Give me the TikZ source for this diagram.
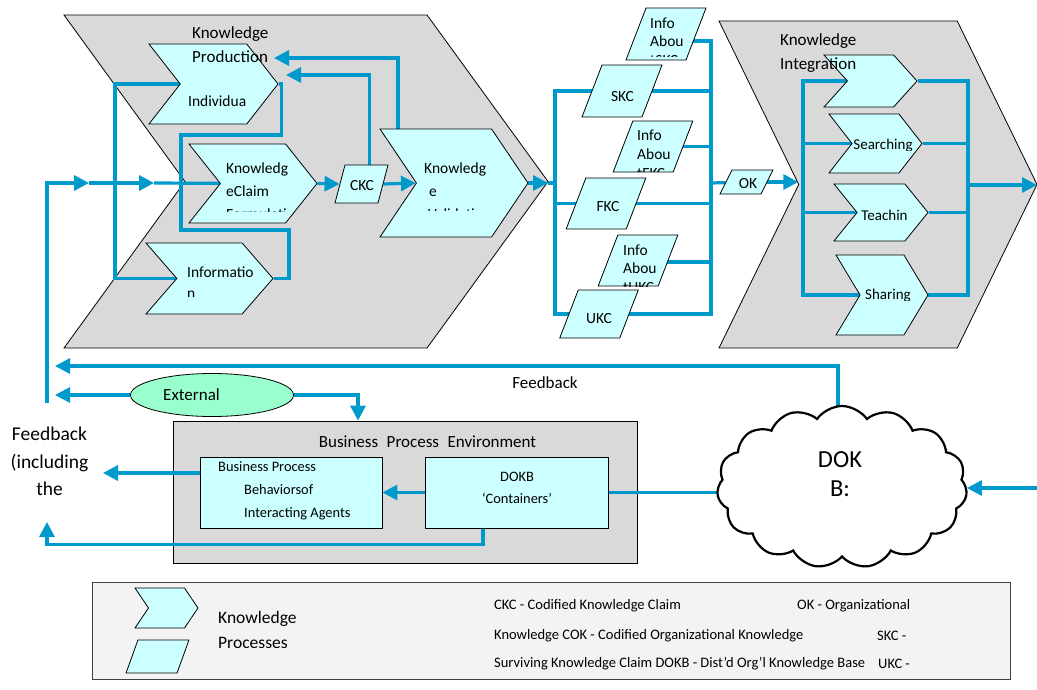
\documentclass[tikz,border=0pt]{standalone}
\usepackage{fontspec}
\setmainfont{Carlito}
\usetikzlibrary{shapes.symbols,shapes.geometric,arrows.meta}

\definecolor{procfill}{RGB}{204,255,255}
\definecolor{flowblue}{RGB}{0,153,204}
\definecolor{panelgrey}{RGB}{217,217,217}
\definecolor{extgreen}{RGB}{153,255,204}
\definecolor{legendgrey}{RGB}{243,243,243}
\pgfdeclarelayer{panels}
\pgfdeclarelayer{wires}
\pgfsetlayers{panels,wires,main}

\begin{document}
\begin{tikzpicture}
[every node/.style={inner sep=0pt},
 panel/.style={signal, signal to=east, signal from=west, draw=black, fill=panelgrey, line width=0.8pt},
 kproc/.style={signal, signal to=east, signal from=west, draw=black, fill=procfill, line width=0.8pt},
 kclaim/.style={rectangle, xslant=0.385, draw=black, fill=procfill, line width=0.8pt},
 wire/.style={draw=flowblue, line width=3.2pt},
 flow/.style={wire, -{Triangle[length=15pt,width=15pt]}},
 txt/.style={font=\fontsize{15.5}{23}\selectfont, align=left},
 boxtxt/.style={font=\fontsize{14.4}{23}\selectfont, align=left},
 bigtxt/.style={font=\fontsize{17}{24}\selectfont, align=left},
 legtxt/.style={font=\fontsize{14.5}{18}\selectfont, anchor=west}]
\useasboundingbox (0pt,0pt) rectangle (1037pt,-689pt);

% grey panels
\begin{pgfonlayer}{panels}
\node (kprod) [panel, minimum width=484pt, minimum height=333pt, signal pointer angle=108] at (306pt, -181.5pt) {};
\node (kint) [panel, minimum width=318pt, minimum height=327pt, signal pointer angle=128] at (878pt, -184.5pt) {};
\node (bpe) [rectangle, draw=black, fill=panelgrey, line width=0.8pt, minimum width=464pt, minimum height=142pt] at (405pt, -492pt) {};
\node (legend) [rectangle, draw=black!75, fill=legendgrey, line width=1pt, minimum width=918pt, minimum height=97pt] at (551pt, -630.5pt) {};
\end{pgfonlayer}

% knowledge production
\node (ind) [kproc, minimum width=129pt, minimum height=80pt, signal pointer angle=104] at (213.5pt, -84pt) {};
\node (kcf) [kproc, minimum width=128pt, minimum height=79pt, signal pointer angle=103] at (253pt, -183.5pt) {};
\node (info) [kproc, minimum width=127pt, minimum height=71pt, signal pointer angle=98] at (209.5pt, -278.5pt) {};
\node (kval) [kproc, minimum width=148pt, minimum height=108pt, signal pointer angle=112] at (454pt, -183pt) {};
\node (ckc) [kclaim, xslant=-0.122, minimum width=43pt, minimum height=38pt] at (361.5pt, -184pt) {};

% claims
\node (iskc) [kclaim, minimum width=60pt, minimum height=52pt] at (666pt, -34pt) {};
\node (skc) [kclaim, minimum width=60pt, minimum height=52pt] at (622pt, -91pt) {};
\node (ifkc) [kclaim, minimum width=60pt, minimum height=51pt] at (653pt, -146.5pt) {};
\node (fkc) [kclaim, minimum width=60pt, minimum height=51pt] at (606pt, -203.5pt) {};
\node (iukc) [kclaim, minimum width=60pt, minimum height=51pt] at (638pt, -260.5pt) {};
\node (ukc) [kclaim, minimum width=60pt, minimum height=48pt] at (599pt, -314pt) {};
\node (ok) [kclaim, xslant=0.115, minimum width=41pt, minimum height=24pt] at (746.5pt, -182pt) {};

% knowledge integration
\node (intA) [kproc, minimum width=93pt, minimum height=52pt, signal pointer angle=96] at (870.5pt, -81pt) {};
\node (search) [kproc, minimum width=93pt, minimum height=59pt, signal pointer angle=104] at (875.5pt, -143.5pt) {};
\node (teach) [kproc, minimum width=94pt, minimum height=57pt, signal pointer angle=102] at (881pt, -212.5pt) {};
\node (share) [kproc, minimum width=92pt, minimum height=80pt, signal pointer angle=118] at (882pt, -295pt) {};

% environment
\node (ext) [ellipse, draw=black, fill=extgreen, line width=0.8pt, minimum width=163pt, minimum height=43pt] at (212pt, -395pt) {};
\node (bpb) [rectangle, draw=black, fill=procfill, line width=0.8pt, minimum width=182pt, minimum height=71pt] at (291pt, -492.5pt) {};
\node (dokb) [rectangle, draw=black, fill=procfill, line width=0.8pt, minimum width=183pt, minimum height=71pt] at (516.5pt, -492.5pt) {};
\node (cloud) [cloud, cloud puffs=15, cloud puff arc=110, aspect=1.5, draw=black, fill=white, line width=2.2pt, minimum width=250pt, minimum height=162pt] at (842pt, -487pt) {};

% legend shapes
\node (legproc) [kproc, minimum width=63pt, minimum height=40pt, signal pointer angle=112] at (166.5pt, -608pt) {};
\node (legclaim) [kclaim, xslant=-0.025, minimum width=51pt, minimum height=33pt] at (157.5pt, -656.5pt) {};

% free ends
\coordinate (fbFoot) at (47pt, -403pt);
\coordinate (fbMarkA) at (89pt, -183pt);
\coordinate (fbMarkB) at (154pt, -183pt);
\coordinate (prodInA) at (274pt, -58pt);
\coordinate (prodInB) at (286pt, -75pt);
\coordinate (prodOut) at (548pt, -183pt);
\coordinate (splitL) at (555pt, -183pt);
\coordinate (splitR) at (711pt, -183pt);
\coordinate (intOut) at (1037pt, -185pt);
\coordinate (fbTopEnd) at (55pt, -366pt);
\coordinate (fbExtEnd) at (55pt, -395pt);
\coordinate (fbBpEnd) at (103pt, -473pt);
\coordinate (fbLowEnd) at (47pt, -522pt);
\coordinate (dokIn) at (1037pt, -488pt);

\begin{pgfonlayer}{wires}
\draw [flow] (fbFoot) |- (fbMarkA);
\draw [flow] (fbMarkA) -- (fbMarkB);
\draw [wire] (fbMarkB) -- (kcf);
\draw [wire] (ind) -- (115pt, -84pt) |- (info);
\draw [wire] (ind.east) -- ++(3pt,0) |- (181pt, -135pt) |- (289pt, -230pt) |- (info.east);
\draw [flow] ([xshift=-56pt]kval.north) |- (prodInA);
\draw [flow] ([xshift=2.5pt]ckc.north) |- (prodInB);
\draw [flow] (kcf.east) -- (ckc.west);
\draw [flow] (ckc.east) -- (kval.west);
\draw [flow] (kval.east) -- (prodOut);
\draw [wire] (prodOut) -- (splitL);
\draw [wire] (skc) -| (555pt, -314pt) -- (ukc);
\draw [wire] (555pt, -203.5pt) -- (fkc);
\draw [wire] ([yshift=-7pt]iskc.center) -| (711pt, -314pt) -- (ukc);
\draw [wire] (skc) -- (711pt, -91pt);
\draw [wire] (ifkc) -- (711pt, -146.5pt);
\draw [wire] (fkc) -- (711pt, -203.5pt);
\draw [wire] ([yshift=-1.5pt]iukc.center) -- (711pt, -262pt);
\draw [wire] (splitR) -- (ok);
\draw [flow] (ok.east) -- (ok.east -| kint.west);
\draw [wire] (intA) -- (803pt, -81pt) |- (share);
\draw [wire] (803pt, -143.5pt) -- (search);
\draw [wire] (803pt, -212.5pt) -- (teach);
\draw [wire] (intA) -- (968pt, -81pt) |- (share);
\draw [wire] (search) -- (968pt, -143.5pt);
\draw [wire] (teach) -- (968pt, -212.5pt);
\draw [flow] (968pt, -185pt) -- (intOut);
\draw [flow] ([xshift=-4pt]cloud.center) |- (fbTopEnd);
\draw [flow] (ext) -- (fbExtEnd);
\draw [flow] (ext) -| ([xshift=-47pt]bpe.north);
\draw [flow] ([yshift=19.5pt]bpb.west) -- (fbBpEnd);
\draw [flow] (dokb) -- (bpb.east);
\draw [flow] ([xshift=-33.5pt]dokb.south) -- ++(0,-16pt) -| (fbLowEnd);
\draw [wire] (dokb) -- (dokb -| cloud);
\draw [flow] (dokIn) -- (dokIn -| cloud.east);
\end{pgfonlayer}

% texts
\node (prodLbl) [bigtxt, anchor=west] at (192pt, -45pt) {Knowledge\\Production};
\node (intLbl) [bigtxt, anchor=west] at (780pt, -53pt) {Knowledge\\Integration};
\node (indTxt) [txt, anchor=west] at (188pt, -101pt) {Individua};
\begin{scope}
\clip (220pt, -150pt) rectangle (315pt, -211pt);
\node (kcfTxt) [txt, anchor=west] at (226pt, -191pt) {Knowledg\\eClaim\\Formulati};
\end{scope}
\begin{scope}
\clip (180pt, -255pt) rectangle (270pt, -296pt);
\node (infoTxt) [txt, anchor=west, font=\fontsize{15.5}{21}\selectfont] at (187pt, -283pt) {Informatio\\n};
\end{scope}
\begin{scope}
\clip (415pt, -150pt) rectangle (520pt, -210pt);
\node (kvalTxt) [txt, anchor=west] at (424pt, -191pt) {Knowledg\\\hspace*{5pt}e\\\hspace*{4pt}Validati};
\end{scope}
\node (ckcTxt) [txt] at (362pt, -186pt) {CKC};
\begin{scope}
\clip (640pt, 0pt) rectangle (705pt, -56pt);
\node (iskcTxt) [txt, anchor=west, font=\fontsize{15.5}{18.5}\selectfont] at (650pt, -41.5pt) {Info\\Abou\\tSKC};
\end{scope}
\begin{scope}
\clip (625pt, -120pt) rectangle (695pt, -171.5pt);
\node (ifkcTxt) [txt, anchor=west, font=\fontsize{15.5}{19}\selectfont] at (637pt, -154pt) {Info\\Abou\\tFKC};
\end{scope}
\begin{scope}
\clip (612pt, -235pt) rectangle (680pt, -286pt);
\node (iukcTxt) [txt, anchor=west, font=\fontsize{15.5}{18.5}\selectfont] at (623pt, -268.5pt) {Info\\Abou\\tUKC};
\end{scope}
\node (skcTxt) [txt] at (622.5pt, -97pt) {SKC};
\node (fkcTxt) [txt] at (608pt, -207pt) {FKC};
\node (ukcTxt) [txt] at (599pt, -319pt) {UKC};
\node (okTxt) [txt] at (748pt, -184pt) {OK};
\begin{scope}
\clip (840pt, -120pt) rectangle (930pt, -150pt);
\node (searchTxt) [txt, font=\fontsize{15}{18}\selectfont] at (883pt, -146pt) {Searching};
\end{scope}
\node (teachTxt) [txt, font=\fontsize{15}{18}\selectfont] at (884.5pt, -215pt) {Teachin};
\begin{scope}
\clip (840pt, -270pt) rectangle (930pt, -300pt);
\node (shareTxt) [txt, font=\fontsize{15}{18}\selectfont] at (888pt, -296pt) {Sharing};
\end{scope}

\node (fbLbl) [bigtxt] at (545pt, -383pt) {Feedback};
\node (extTxt) [bigtxt] at (191.5pt, -395pt) {External};
\node (bpeTxt) [bigtxt] at (427.5pt, -442pt) {Business\enspace Process\enspace Environment};
\node (bpbTxt) [boxtxt, anchor=west] at (218pt, -491pt) {Business Process\\\hspace*{26pt}Behaviorsof\\\hspace*{26pt}Interacting Agents};
\node (dokbTxt) [boxtxt, align=center, font=\fontsize{14.4}{22}\selectfont] at (517pt, -488pt) {DOKB\\‘Containers’};
\node (cloudTxt) [align=center, font=\fontsize{24.5}{29}\selectfont] at (840pt, -474pt) {DOK\\B:};
\node (fbSide) [align=center, font=\fontsize{19.5}{27.5}\selectfont] at (49.5pt, -461.5pt) {Feedback\\(including\\the};

% legend texts
\node (legTxt) [bigtxt, anchor=west, font=\fontsize{17.5}{25}\selectfont] at (218pt, -629.5pt) {Knowledge\\Processes};
\node (lgA) [legtxt] at (494pt, -606pt) {CKC - Codified Knowledge Claim};
\node (lgB) [legtxt] at (797pt, -606pt) {OK - Organizational};
\node (lgC) [legtxt] at (494pt, -636pt) {Knowledge COK - Codified Organizational Knowledge};
\node (lgD) [legtxt] at (877pt, -636pt) {SKC -};
\node (lgE) [legtxt] at (494pt, -664pt) {Surviving Knowledge Claim DOKB - Dist’d Org’l Knowledge Base};
\node (lgF) [legtxt] at (878pt, -664pt) {UKC -};
\end{tikzpicture}
\end{document}
